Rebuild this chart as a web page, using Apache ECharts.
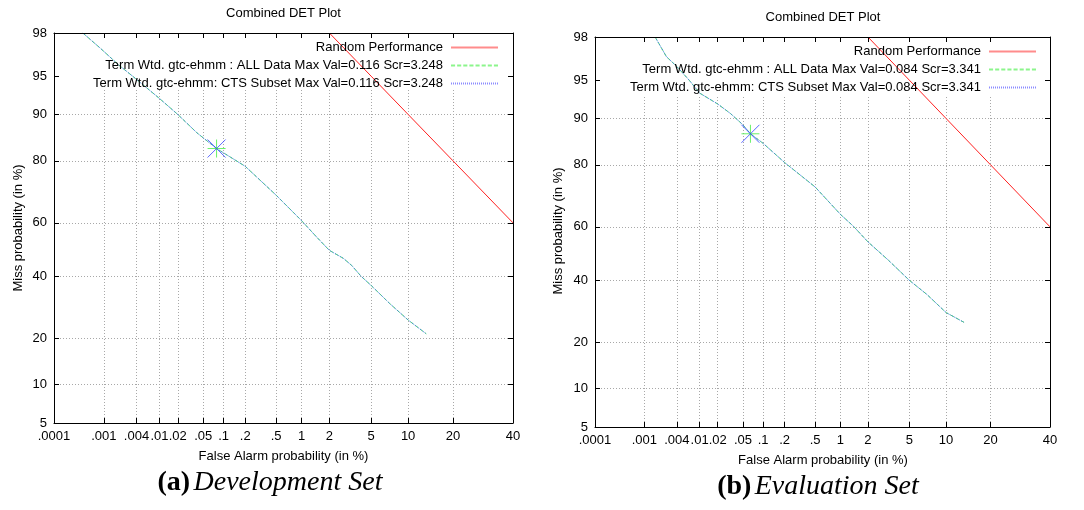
<!DOCTYPE html>
<html><head><meta charset="utf-8">
<script src="https://cdn.jsdelivr.net/npm/echarts@6/dist/echarts.min.js"></script>
<style>html,body{margin:0;padding:0;background:#fff}#c{width:1084px;height:510px}</style>
</head><body><div id="c"></div>
<script>
// ---------- data (percent) ----------
const xTickValues = [0.0001, 0.001, 0.004, 0.01, 0.02, 0.05, 0.1, 0.2, 0.5, 1, 2, 5, 10, 20, 40];
const xTickLabels = ['.0001', '.001', '.004', '.01', '.02', '.05', '.1', '.2', '.5', '1', '2', '5', '10', '20', '40'];
const yTickValues = [5, 10, 20, 40, 60, 80, 90, 95, 98];
const yTickLabels = ['5', '10', '20', '40', '60', '80', '90', '95', '98'];

const randomFA = [2, 5, 10, 20, 40];
const randomMiss = [98, 95, 90, 80, 60];

const devFA = [0.00039, 0.00085, 0.0019, 0.0034, 0.0100, 0.020, 0.040, 0.079, 0.20, 0.50, 1.0, 1.47, 2.0, 2.76, 3.33, 4.07, 5.0, 7.2, 10.0, 13.5];
const devMiss = [98.0, 97.2, 96.0, 95.0, 92.4, 90.0, 86.6, 83.1, 78.5, 69.7, 60.8, 54.7, 49.7, 46.7, 44.0, 40.0, 36.7, 30.4, 25.2, 21.2];
const devBestFA = [0.079];
const devBestMiss = [83.1];

const evalFA = [0.0016, 0.0026, 0.004, 0.0066, 0.010, 0.020, 0.032, 0.050, 0.065, 0.10, 0.20, 0.50, 1.0, 1.4, 2.0, 3.2, 5.0, 7.07, 10.0, 13.5];
const evalMiss = [98.0, 96.9, 96.2, 95.0, 93.6, 92.2, 90.8, 88.9, 87.2, 85.2, 80.6, 73.6, 64.5, 60.2, 54.4, 47.5, 40.0, 34.9, 28.8, 25.7];
const evalBestFA = [0.065];
const evalBestMiss = [87.2];

// (trailing space keeps the two panels' series names unique; trimmed for display)
const devNames = ['Random Performance',
  'Term Wtd. gtc-ehmm : ALL Data Max Val=0.116 Scr=3.248',
  'Term Wtd. gtc-ehmm: CTS Subset Max Val=0.116 Scr=3.248'];
const evalNames = ['Random Performance ',
  'Term Wtd. gtc-ehmm : ALL Data Max Val=0.084 Scr=3.341',
  'Term Wtd. gtc-ehmm: CTS Subset Max Val=0.084 Scr=3.341'];

// ---------- normal deviate (probit) scale ----------
function probit(p) {
  const a = [-3.969683028665376e+01, 2.209460984245205e+02, -2.759285104469687e+02, 1.383577518672690e+02, -3.066479806614716e+01, 2.506628277459239e+00];
  const b = [-5.447609879822406e+01, 1.615858368580409e+02, -1.556989798598866e+02, 6.680131188771972e+01, -1.328068155288572e+01];
  const c = [-7.784894002430293e-03, -3.223964580411365e-01, -2.400758277161838e+00, -2.549671750376424e+00, 4.374664141464968e+00, 2.938163982698783e+00];
  const d = [7.784695709041462e-03, 3.224671290700398e-01, 2.445134137142996e+00, 3.754408661907416e+00];
  const pl = 0.02425, ph = 1 - pl;
  let q, r;
  if (p < pl) {
    q = Math.sqrt(-2 * Math.log(p));
    return (((((c[0]*q+c[1])*q+c[2])*q+c[3])*q+c[4])*q+c[5]) / ((((d[0]*q+d[1])*q+d[2])*q+d[3])*q+1);
  }
  if (p <= ph) {
    q = p - 0.5; r = q * q;
    return (((((a[0]*r+a[1])*r+a[2])*r+a[3])*r+a[4])*r+a[5])*q / (((((b[0]*r+b[1])*r+b[2])*r+b[3])*r+b[4])*r+1);
  }
  q = Math.sqrt(-2 * Math.log(1 - p));
  return -(((((c[0]*q+c[1])*q+c[2])*q+c[3])*q+c[4])*q+c[5]) / ((((d[0]*q+d[1])*q+d[2])*q+d[3])*q+1);
}
const z = pct => probit(pct / 100);
const xTicksZ = xTickValues.map(z);
const yTicksZ = yTickValues.map(z);
const pts = (xs, ys) => xs.map((v, i) => [z(v), z(ys[i])]);
const lab = (zs, labels) => v => { for (let i = 0; i < zs.length; i++) if (Math.abs(zs[i] - v) < 1e-6) return labels[i]; return ''; };

const FONT = 'Liberation Sans, Arial, sans-serif';
const SERIF = 'Liberation Serif, Times New Roman, serif';

const grids = [
  { left: 54, top: 33, width: 459, height: 390 },
  { left: 595, top: 37, width: 455, height: 390 }
];

const xAxes = [], yAxes = [];
grids.forEach((g, gi) => {
  const xmin = xTicksZ[0], xmax = xTicksZ[xTicksZ.length - 1];
  const ymin = yTicksZ[0], ymax = yTicksZ[yTicksZ.length - 1];
  const line = { show: true, onZero: false, lineStyle: { color: '#000', width: 1 } };
  const tick = { show: true, inside: true, length: 5, customValues: xTicksZ, lineStyle: { color: '#000' } };
  const ytick = { show: true, inside: true, length: 5, customValues: yTicksZ, lineStyle: { color: '#000' } };
  const grid = { show: true, lineStyle: { color: '#a8a8a8', type: [1, 2], width: 1 } };
  xAxes.push({ type: 'value', gridIndex: gi, position: 'bottom', min: xmin, max: xmax, z: 3,
    axisLine: line, axisTick: tick, splitLine: { show: false },
    axisLabel: { customValues: xTicksZ, formatter: lab(xTicksZ, xTickLabels), margin: 7, color: '#000', fontFamily: FONT, fontSize: 13 } });
  xAxes.push({ type: 'value', gridIndex: gi, position: 'top', min: xmin, max: xmax, z: 3,
    axisLine: line, axisTick: tick, splitLine: { show: false }, axisLabel: { show: false } });
  xAxes.push({ type: 'value', gridIndex: gi, position: 'bottom', min: xmin, max: xmax, z: 0,
    axisLine: { show: false, onZero: false }, axisTick: { show: false, customValues: xTicksZ },
    axisLabel: { show: false }, splitLine: grid });
  yAxes.push({ type: 'value', gridIndex: gi, position: 'left', min: ymin, max: ymax, z: 3,
    axisLine: line, axisTick: ytick, splitLine: { show: false },
    axisLabel: { customValues: yTicksZ, formatter: lab(yTicksZ, yTickLabels), margin: 7, color: '#000', fontFamily: FONT, fontSize: 13 } });
  yAxes.push({ type: 'value', gridIndex: gi, position: 'right', min: ymin, max: ymax, z: 3,
    axisLine: line, axisTick: ytick, splitLine: { show: false }, axisLabel: { show: false } });
  yAxes.push({ type: 'value', gridIndex: gi, position: 'left', min: ymin, max: ymax, z: 0,
    axisLine: { show: false, onZero: false }, axisTick: { show: false, customValues: yTicksZ },
    axisLabel: { show: false }, splitLine: grid });
});

const PLUS = 'path://M10 0 L10 20 M0 10 L20 10';
const CROSS = 'path://M0 0 L20 20 M20 0 L0 20';

const RED = '#ff2020', GREEN = '#55dd66', BLUE = '#4a7cf0';
const STYLES = [
  { color: RED, width: 1 },
  { color: GREEN, width: 1, type: [4, 2] },
  { color: BLUE, width: 1, type: [1, 1] }
];

// legend key samples: thin horizontal strokes (solid, dashed, dotted)
function strokeIcon(len, on, period) {
  let d = '';
  for (let x = 0; x < len; x += period) d += 'M' + x + ' 0H' + Math.min(x + on, len) + 'V2H' + x + 'Z';
  return 'path://' + d;
}
const LEGEND_KEYS = [
  { icon: strokeIcon(47, 47, 47), color: '#ff8c8c' },
  { icon: strokeIcon(47, 4, 6), color: '#8cf58c' },
  { icon: strokeIcon(47, 1, 2), color: '#8c8cff' }
];

function panelSeries(gi, names, fa, miss, bFA, bMiss) {
  const xi = gi * 3, yi = gi * 3;
  return [
    { name: names[0], type: 'line', xAxisIndex: xi, yAxisIndex: yi, data: pts(randomFA, randomMiss),
      symbol: 'none', lineStyle: STYLES[0], itemStyle: { color: RED }, z: 2 },
    { name: names[1], type: 'line', xAxisIndex: xi, yAxisIndex: yi, data: pts(fa, miss),
      symbol: 'none', lineStyle: STYLES[1], itemStyle: { color: GREEN }, z: 2 },
    { name: names[2], type: 'line', xAxisIndex: xi, yAxisIndex: yi, data: pts(fa, miss),
      symbol: 'none', lineStyle: STYLES[2], itemStyle: { color: BLUE }, z: 2 },
    { name: 'best-all-' + gi, type: 'scatter', xAxisIndex: xi, yAxisIndex: yi, data: pts(bFA, bMiss),
      symbol: PLUS, symbolSize: 18, itemStyle: { color: 'none', borderColor: '#44ee44', borderWidth: 1 }, z: 2 },
    { name: 'best-cts-' + gi, type: 'scatter', xAxisIndex: xi, yAxisIndex: yi, data: pts(bFA, bMiss),
      symbol: CROSS, symbolSize: 18, itemStyle: { color: 'none', borderColor: '#3344ff', borderWidth: 1 }, z: 2 }
  ];
}

const legendItems = names => names.map((n, i) => ({ name: n, icon: LEGEND_KEYS[i].icon,
  itemStyle: { color: LEGEND_KEYS[i].color, borderWidth: 0, borderColor: LEGEND_KEYS[i].color, opacity: 1 } }));

const legendBase = { orient: 'vertical', align: 'right', padding: 0, itemWidth: 47, itemHeight: 13,
  itemGap: 5, selectedMode: false, formatter: n => n.trim(), symbolKeepAspect: true,
  textStyle: { fontFamily: FONT, fontSize: 13, color: '#000', padding: [0, 3, 0, 0] } };

function txt(x, y, text, extra) {
  return Object.assign({ type: 'text', x: x, y: y, silent: true, z: 5,
    style: Object.assign({ text: text, fill: '#000', font: '13px ' + FONT, textAlign: 'center', textVerticalAlign: 'middle' }, extra || {}) });
}
function caption(x, y, tag, name) {
  return { type: 'text', x: x, y: y, silent: true, z: 5,
    style: { text: '{b|' + tag + '} {i|' + name + '}', textAlign: 'center', textVerticalAlign: 'middle', fill: '#000',
      rich: { b: { fontFamily: SERIF, fontSize: 28, fontWeight: 'bold', fill: '#000' },
              i: { fontFamily: SERIF, fontSize: 28, fontStyle: 'italic', fill: '#000' } } } };
}

const option = {
  animation: false,
  backgroundColor: '#fff',
  grid: grids,
  xAxis: xAxes,
  yAxis: yAxes,
  legend: [
    Object.assign({}, legendBase, { data: legendItems(devNames), right: 586, top: 41 }),
    Object.assign({}, legendBase, { data: legendItems(evalNames), right: 48, top: 45 })
  ],
  graphic: [
    { type: 'rect', silent: true, z: 1, shape: { x: 55, y: 34, width: 457, height: 56 }, style: { fill: '#fff' } },
    { type: 'rect', silent: true, z: 1, shape: { x: 596, y: 38, width: 453, height: 57 }, style: { fill: '#fff' } },
    txt(283.5, 13, 'Combined DET Plot'),
    txt(823, 17, 'Combined DET Plot'),
    txt(283.5, 456, 'False Alarm probability (in %)'),
    txt(823, 460, 'False Alarm probability (in %)'),
    Object.assign(txt(0, 0, 'Miss probability (in %)'), { x: 18, y: 228, rotation: Math.PI / 2 }),
    Object.assign(txt(0, 0, 'Miss probability (in %)'), { x: 558, y: 231, rotation: Math.PI / 2 }),
    caption(270, 483, '(a)', 'Development Set'),
    caption(818, 487, '(b)', 'Evaluation Set')
  ],
  series: [].concat(
    panelSeries(0, devNames, devFA, devMiss, devBestFA, devBestMiss),
    panelSeries(1, evalNames, evalFA, evalMiss, evalBestFA, evalBestMiss)
  )
};

const chart = echarts.init(document.getElementById('c'), null, { renderer: 'canvas' });
chart.setOption(option);
</script>
</body></html>
